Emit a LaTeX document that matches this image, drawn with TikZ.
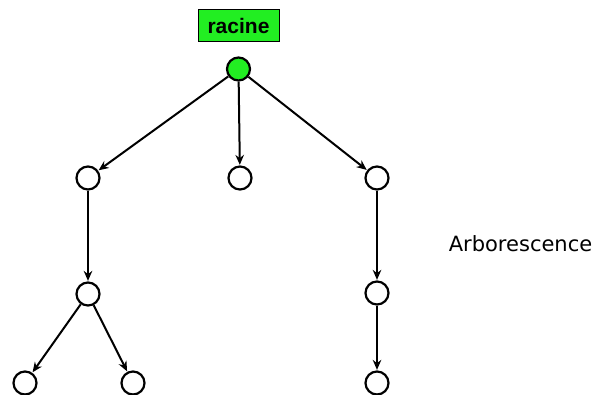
\documentclass[tikz,border=0pt]{standalone}
\usepackage{fontspec}
\setmainfont{Liberation Sans}
\newfontfamily\labelfont{DejaVu Sans}
\usepackage{xcolor}
\definecolor{rootgreen}{HTML}{22EE22}
\usetikzlibrary{arrows.meta,positioning}

\begin{document}
\begin{tikzpicture}[
  x=1pt,y=-1pt,
  vertex/.style={draw,circle,line width=2.2pt,minimum size=23pt,inner sep=0pt,fill=white},
  arrow/.style={-{Stealth[length=10pt,width=8.5pt]},line width=2pt,shorten >=0.5pt},
  tag/.style={draw,fill=rootgreen,line width=0.7pt,minimum width=81pt,minimum height=32pt,font=\fontsize{21}{22}\selectfont\bfseries}
]
  \useasboundingbox (0,0) rectangle (595,394);
  \clip (0,0) rectangle (595,394);

  % Root and its label
  \node[tag] (lbl) at (238.5,25.5) {racine};
  \node[vertex,fill=rootgreen] (r) at (238.5,69) {};

  % Level 1
  \node[vertex] (a) at (88,178) {};
  \node[vertex] (b) at (240,178) {};
  \node[vertex] (c) at (377,178) {};

  % Level 2
  \node[vertex] (d) at (88,294) {};
  \node[vertex] (e) at (377,293) {};

  % Leaves
  \node[vertex] (f) at (25,383) {};
  \node[vertex] (g) at (133,383) {};
  \node[vertex] (h) at (377,383) {};

  \draw[arrow] (r) -- (a);
  \draw[arrow] (r) -- (b);
  \draw[arrow] (r) -- (c);
  \draw[arrow] (a) -- (d);
  \draw[arrow] (c) -- (e);
  \draw[arrow] (d) -- (f);
  \draw[arrow] (d) -- (g);
  \draw[arrow] (e) -- (h);

  % Caption on the right
  \node[font=\labelfont\fontsize{21}{22}\selectfont] (name) at (520.5,244) {Arborescence};
\end{tikzpicture}
\end{document}
